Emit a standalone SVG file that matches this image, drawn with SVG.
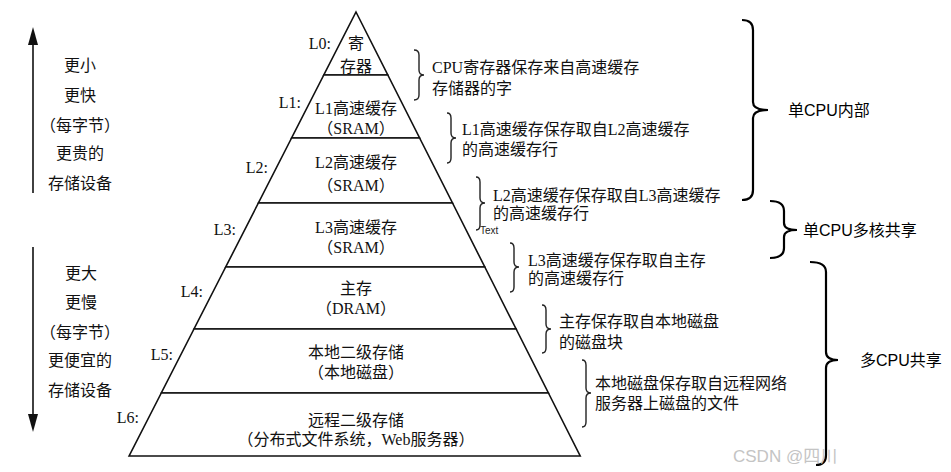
<svg xmlns="http://www.w3.org/2000/svg" width="951" height="472" viewBox="0 0 951 472">
<style>
.layer{fill:#fff;stroke:#111;stroke-width:1.6;stroke-linejoin:miter}
.t{font-family:"Liberation Serif","Noto Sans CJK SC",serif;font-size:16px;fill:#111;text-anchor:middle}
.lv{font-family:"Liberation Serif","Noto Sans CJK SC",serif;font-size:16px;fill:#111;text-anchor:end}
.d{font-family:"Liberation Serif","Noto Sans CJK SC",serif;font-size:16px;fill:#111}
.side{font-family:"Noto Sans CJK SC",sans-serif;font-size:16px;fill:#111;text-anchor:middle}
.r{font-family:"Liberation Sans","Noto Sans CJK SC",sans-serif;font-size:16px;fill:#000}
.sb{fill:none;stroke:#222;stroke-width:1.4}
.bb{fill:none;stroke:#000;stroke-width:2.2}
</style>
<rect width="951" height="472" fill="#fff"/>

<g id="L0">
<polygon class="layer" points="356,12 387.8,75 323.8,75"/>
<text class="lv" x="331" y="49">L0:</text>
<text class="t" x="356" y="49">寄</text>
<text class="t" x="356" y="72">存器</text>
</g>
<g id="L1">
<polygon class="layer" points="323.8,75 387.8,75 419.6,138 291.6,138"/>
<text class="lv" x="301" y="108">L1:</text>
<text class="t" x="356" y="114">L1高速缓存</text>
<text class="t" x="356" y="134">（SRAM）</text>
</g>
<g id="L2">
<polygon class="layer" points="291.6,138 419.6,138 452.5,203 258.4,203"/>
<text class="lv" x="268" y="173">L2:</text>
<text class="t" x="356" y="168">L2高速缓存</text>
<text class="t" x="356" y="191">（SRAM）</text>
</g>
<g id="L3">
<polygon class="layer" points="258.4,203 452.5,203 484.8,267 225.7,267"/>
<text class="lv" x="236" y="235">L3:</text>
<text class="t" x="356" y="233">L3高速缓存</text>
<text class="t" x="356" y="253">（SRAM）</text>
</g>
<g id="L4">
<polygon class="layer" points="225.7,267 484.8,267 516.1,329 194,329"/>
<text class="lv" x="203" y="297">L4:</text>
<text class="t" x="356" y="294">主存</text>
<text class="t" x="356" y="314">（DRAM）</text>
</g>
<g id="L5">
<polygon class="layer" points="194,329 516.1,329 548.4,393 161.3,393"/>
<text class="lv" x="173" y="360">L5:</text>
<text class="t" x="356" y="358">本地二级存储</text>
<text class="t" x="356" y="378">（本地磁盘）</text>
</g>
<g id="L6">
<polygon class="layer" points="161.3,393 548.4,393 580.2,456 129.1,456"/>
<text class="lv" x="139" y="423">L6:</text>
<text class="t" x="356" y="426">远程二级存储</text>
<text class="t" x="356" y="445">（分布式文件系统，Web服务器）</text>
</g>

<g id="up-arrow">
<line x1="33" y1="43" x2="33" y2="193" stroke="#111" stroke-width="1.6"/>
<polygon points="33,27 28,45 38,45" fill="#111"/>
<text class="side" x="80" y="71">更小</text>
<text class="side" x="80" y="101">更快</text>
<text class="side" x="80" y="131">（每字节）</text>
<text class="side" x="80" y="159">更贵的</text>
<text class="side" x="80" y="189">存储设备</text>
</g>
<g id="down-arrow">
<line x1="33" y1="247" x2="33" y2="416" stroke="#111" stroke-width="1.6"/>
<polygon points="33,432 28,414 38,414" fill="#111"/>
<text class="side" x="81" y="279">更大</text>
<text class="side" x="81" y="308">更慢</text>
<text class="side" x="80" y="338">（每字节）</text>
<text class="side" x="80" y="366">更便宜的</text>
<text class="side" x="80" y="396">存储设备</text>
</g>

<g id="connectors">
<path class="sb" d="M414,50 Q419,50 419,55 L419,70 Q419,75 424,75 Q419,75 419,80 L419,95 Q419,100 414,100"/>
<path class="sb" d="M447,113 Q451,113 451,118 L451,133 Q451,138 456,138 Q451,138 451,143 L451,158 Q451,163 447,163"/>
<path class="sb" d="M476,177 Q480,177 480,182 L480,198 Q480,203 485,203 Q480,203 480,208 L480,225 Q480,230 476,230"/>
<path class="sb" d="M510,243 Q514,243 514,248 L514,262 Q514,267 519,267 Q514,267 514,272 L514,287 Q514,292 510,292"/>
<path class="sb" d="M542,305 Q546,305 546,310 L546,324 Q546,329 551,329 Q546,329 546,334 L546,348 Q546,353 542,353"/>
<path class="sb" d="M582,360 Q586,360 586,365 L586,388 Q586,393 591,393 Q586,393 586,398 L586,422 Q586,427 582,427"/>
<path class="bb" d="M742,20 Q753,20 753,30 L753,102 Q753,110 768,110 Q753,110 753,118 L753,190 Q753,200 742,200"/>
<path class="bb" d="M770,201 Q784,201 784,211 L784,223 Q784,230 797,230 Q784,230 784,237 L784,248 Q784,258 770,258"/>
<path class="bb" d="M810,262 Q826,262 826,272 L826,352 Q826,360 838,360 Q826,360 826,368 L826,455 Q826,465 816,465"/>
</g>

<g id="descriptions">
<text class="d" x="432" y="73">CPU寄存器保存来自高速缓存</text>
<text class="d" x="432" y="94">存储器的字</text>
<text class="d" x="462" y="135">L1高速缓存保存取自L2高速缓存</text>
<text class="d" x="462" y="155">的高速缓存行</text>
<text class="d" x="493" y="201">L2高速缓存保存取自L3高速缓存</text>
<text class="d" x="493" y="219">的高速缓存行</text>
<text x="480" y="234" font-family="Liberation Sans, sans-serif" font-size="10" fill="#222">Text</text>
<text class="d" x="528" y="266">L3高速缓存保存取自主存</text>
<text class="d" x="528" y="284">的高速缓存行</text>
<text class="d" x="559" y="327">主存保存取自本地磁盘</text>
<text class="d" x="559" y="348">的磁盘块</text>
<text class="d" x="595" y="389">本地磁盘保存取自远程网络</text>
<text class="d" x="595" y="409">服务器上磁盘的文件</text>
</g>

<g id="groups">
<text class="r" x="788" y="116">单CPU内部</text>
<text class="r" x="803" y="236">单CPU多核共享</text>
<text class="r" x="860" y="366">多CPU共享</text>
</g>

<text x="733" y="462" font-family="Liberation Sans, Noto Sans CJK SC, sans-serif" font-size="17" fill="#c4c4c4">CSDN @四川</text>
</svg>
